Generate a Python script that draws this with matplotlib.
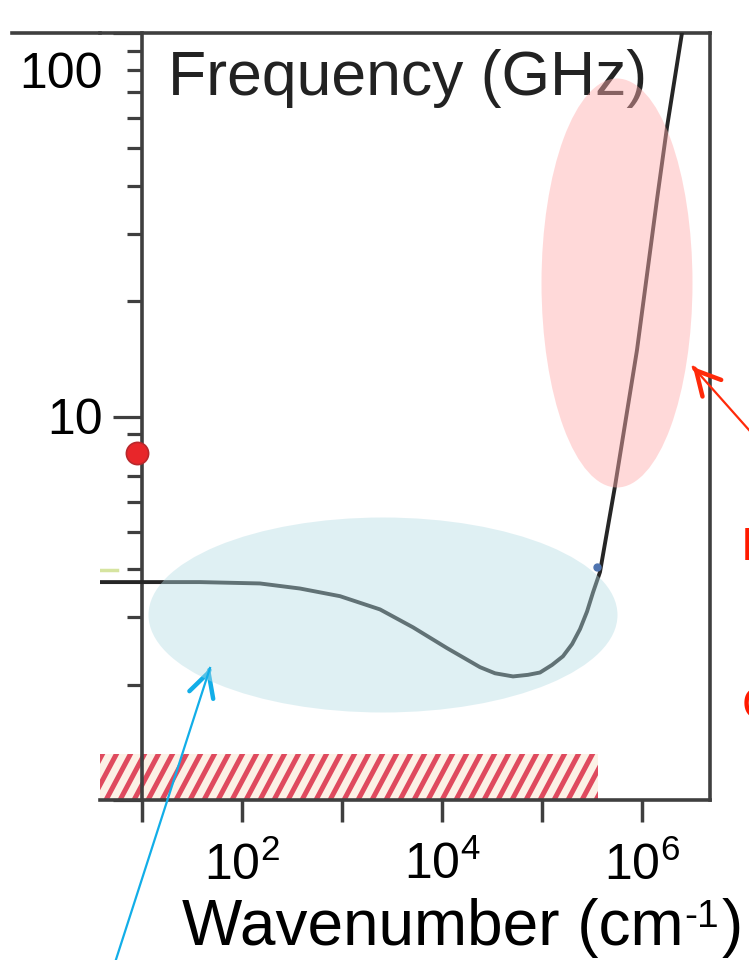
import matplotlib
matplotlib.use("Agg")
import matplotlib.pyplot as plt
import numpy as np
from matplotlib.patches import Ellipse, Rectangle
from matplotlib.collections import LineCollection
from matplotlib.transforms import ScaledTranslation
from matplotlib.ticker import FixedLocator, NullFormatter

plt.rcParams['font.family'] = ['Liberation Sans', 'DejaVu Sans']
plt.rcParams['mathtext.fontset'] = 'custom'
plt.rcParams['mathtext.rm'] = 'Liberation Sans'
plt.rcParams['mathtext.it'] = 'Liberation Sans:italic'
plt.rcParams['mathtext.bf'] = 'Liberation Sans:bold'

# Dispersion curve: wavenumber (cm^-1) vs frequency (GHz)
wavenumber = [3.8, 38, 151, 380, 955, 2400, 5130, 11200, 24000, 33900, 51300,
              72400, 95500, 126000, 162000, 200000, 240000, 282000, 324000,
              380000, 537000, 891000, 1410000, 1780000, 2510000]
frequency = [3.70, 3.70, 3.67, 3.56, 3.40, 3.14, 2.82, 2.49, 2.22, 2.14, 2.10,
             2.12, 2.15, 2.25, 2.37, 2.55, 2.79, 3.10, 3.48,
             3.93, 6.58, 14.9, 36.7, 56.9, 100.0]

# Isolated markers
red_point_k, red_point_f = 8.9, 8.05
blue_point_k, blue_point_f = 3.55e5, 4.06
green_level = 3.98
green_k = [3.8, 5.6]

# Hatched band at the bottom
band_k = [3.8, 3.63e5]
band_f = [1.0, 1.32]

x_ticks = [1e1, 1e2, 1e3, 1e4, 1e5, 1e6]
x_tick_labels = ['', r'$10^{2}$', '', r'$10^{4}$', '', r'$10^{6}$']
y_ticks = [1, 10, 100]
y_tick_labels = ['', '10', '100']
y_minor = [2, 3, 4, 5, 6, 7, 8, 9, 20, 30, 40, 50, 60, 70, 80, 90]
x_lim = [10 ** 0.58, 10 ** 6.68]
y_lim = [1, 100]

W, H = 749, 960
fig = plt.figure(figsize=(W / 100, H / 100), dpi=100)
fig.patch.set_facecolor('white')

ax = fig.add_axes([100 / W, 160 / H, 610 / W, 767 / H])
ax.set_xscale('log')
ax.set_yscale('log')
ax.set_xlim(x_lim)
ax.set_ylim(y_lim)

spine_col = '#3f3f3f'
for s in ax.spines.values():
    s.set_color(spine_col)
    s.set_linewidth(2.6)
ax.spines['left'].set_position(('data', 10))

ax.set_xticks(x_ticks)
ax.set_xticklabels(x_tick_labels, fontsize=36)
ax.xaxis.set_minor_locator(FixedLocator([]))
ax.tick_params(axis='x', which='major', direction='out', length=16, width=2.5,
               color=spine_col, pad=14)

ax.set_yticks(y_ticks)
ax.set_yticklabels(y_tick_labels, fontsize=36)
ax.yaxis.set_minor_locator(FixedLocator(y_minor))
ax.yaxis.set_minor_formatter(NullFormatter())
ax.tick_params(axis='y', which='major', direction='out', length=21, width=2.3,
               color=spine_col, pad=7)
ax.tick_params(axis='y', which='minor', direction='out', length=11, width=2.3,
               color=spine_col)
for lab in ax.get_yticklabels():
    if lab.get_text() == '100':
        lab.set_transform(lab.get_transform() +
                          ScaledTranslation(0, -0.37, fig.dpi_scale_trans))

# Hatched band: cream fill with slanted red stripes
band = Rectangle((band_k[0], band_f[0]), band_k[1] - band_k[0],
                 band_f[1] - band_f[0], facecolor='#fcf1e6', edgecolor='none',
                 zorder=1)
ax.add_patch(band)
step = 14 / 610
rise = 767 / np.tan(np.radians(62)) / 610
offsets = np.arange(-1.0, 1.2, step)
segs = [[(o, 0), (o + rise, 1)] for o in offsets]
stripes = LineCollection(segs, colors='#df4a5e', linewidths=3.6,
                         transform=ax.transAxes, zorder=1.5)
ax.add_collection(stripes, autolim=False)
stripes.set_clip_path(band)

# Curve and markers
ax.plot(wavenumber, frequency, color='#262626', lw=2.8, zorder=3,
        solid_capstyle='round', solid_joinstyle='round')
ax.plot(green_k, [green_level, green_level], color='#d6e4a0', lw=2.5, zorder=2)
ax.plot([blue_point_k], [blue_point_f], 'o', ms=5, color='#4f74b0', zorder=3.5)
ax.plot([red_point_k], [red_point_f], 'o', ms=16, color='#e8262a',
        mec='#b8282c', mew=1.2, zorder=4, clip_on=False)

ax.text(68 / 610, (800 - 95) / 767, 'Frequency (GHz)', transform=ax.transAxes,
        fontsize=45, color='#222222', ha='left', va='baseline', zorder=4)

# Highlight ellipses
ax.add_patch(Ellipse(((383 - 100) / 610, (800 - 615) / 767), 469 / 610, 195 / 767,
                     transform=ax.transAxes, facecolor=(180 / 255, 220 / 255, 228 / 255),
                     alpha=0.42, edgecolor='none', zorder=6))
ax.add_patch(Ellipse(((617 - 100) / 610, (800 - 283) / 767), 151 / 610, 409 / 767,
                     transform=ax.transAxes, facecolor=(1.0, 174 / 255, 174 / 255),
                     alpha=0.46, edgecolor='none', zorder=6))

# Top border continuing to the left
fig.add_artist(plt.Line2D([12 / W, 100 / W], [(H - 33) / H, (H - 33) / H],
                          color=spine_col, lw=2.6, transform=fig.transFigure))


def pointer(tip, tail, color):
    tip_f = (tip[0], H - tip[1])
    tail_f = (tail[0], H - tail[1])
    fig.add_artist(plt.Line2D([tail_f[0] / W, tip_f[0] / W],
                              [tail_f[1] / H, tip_f[1] / H], color=color, lw=1.6,
                              transform=fig.transFigure))
    d = np.array(tip_f) - np.array(tail_f)
    d = d / np.hypot(*d)
    start = (tip_f[0] - d[0] * 2, tip_f[1] - d[1] * 2)
    ax.annotate('', xy=tip_f, xycoords='figure pixels', xytext=start,
                textcoords='figure pixels', annotation_clip=False,
                arrowprops=dict(arrowstyle='->,head_length=0.85,head_width=0.45',
                                color=color, lw=3.2, mutation_scale=20,
                                shrinkA=0, shrinkB=0))


pointer((693, 367), (765, 448), '#ff2a0a')
pointer((210, 668), (111, 975), '#12aee8')

# Side labels running off the right edge
fig.text(741 / W, (H - 560) / H, 'I', color='#ff1a00', fontsize=33, va='baseline')
fig.text(742 / W, (H - 719) / H, 'C', color='#ff1a00', fontsize=33, va='baseline')

# Axis label with superscript
renderer = fig.canvas.get_renderer()
base_y = (H - 945) / H
t1 = fig.text(182 / W, base_y, 'Wavenumber (cm', fontsize=46, va='baseline')
bb = t1.get_window_extent(renderer)
t2 = fig.text(bb.x1 / W + 1 / W, base_y + 18 / H, '-1', fontsize=28, va='baseline')
bb2 = t2.get_window_extent(renderer)
fig.text(bb2.x1 / W + 2 / W, base_y, ')', fontsize=46, va='baseline')

fig.savefig('out.png', dpi=100, facecolor='white')
